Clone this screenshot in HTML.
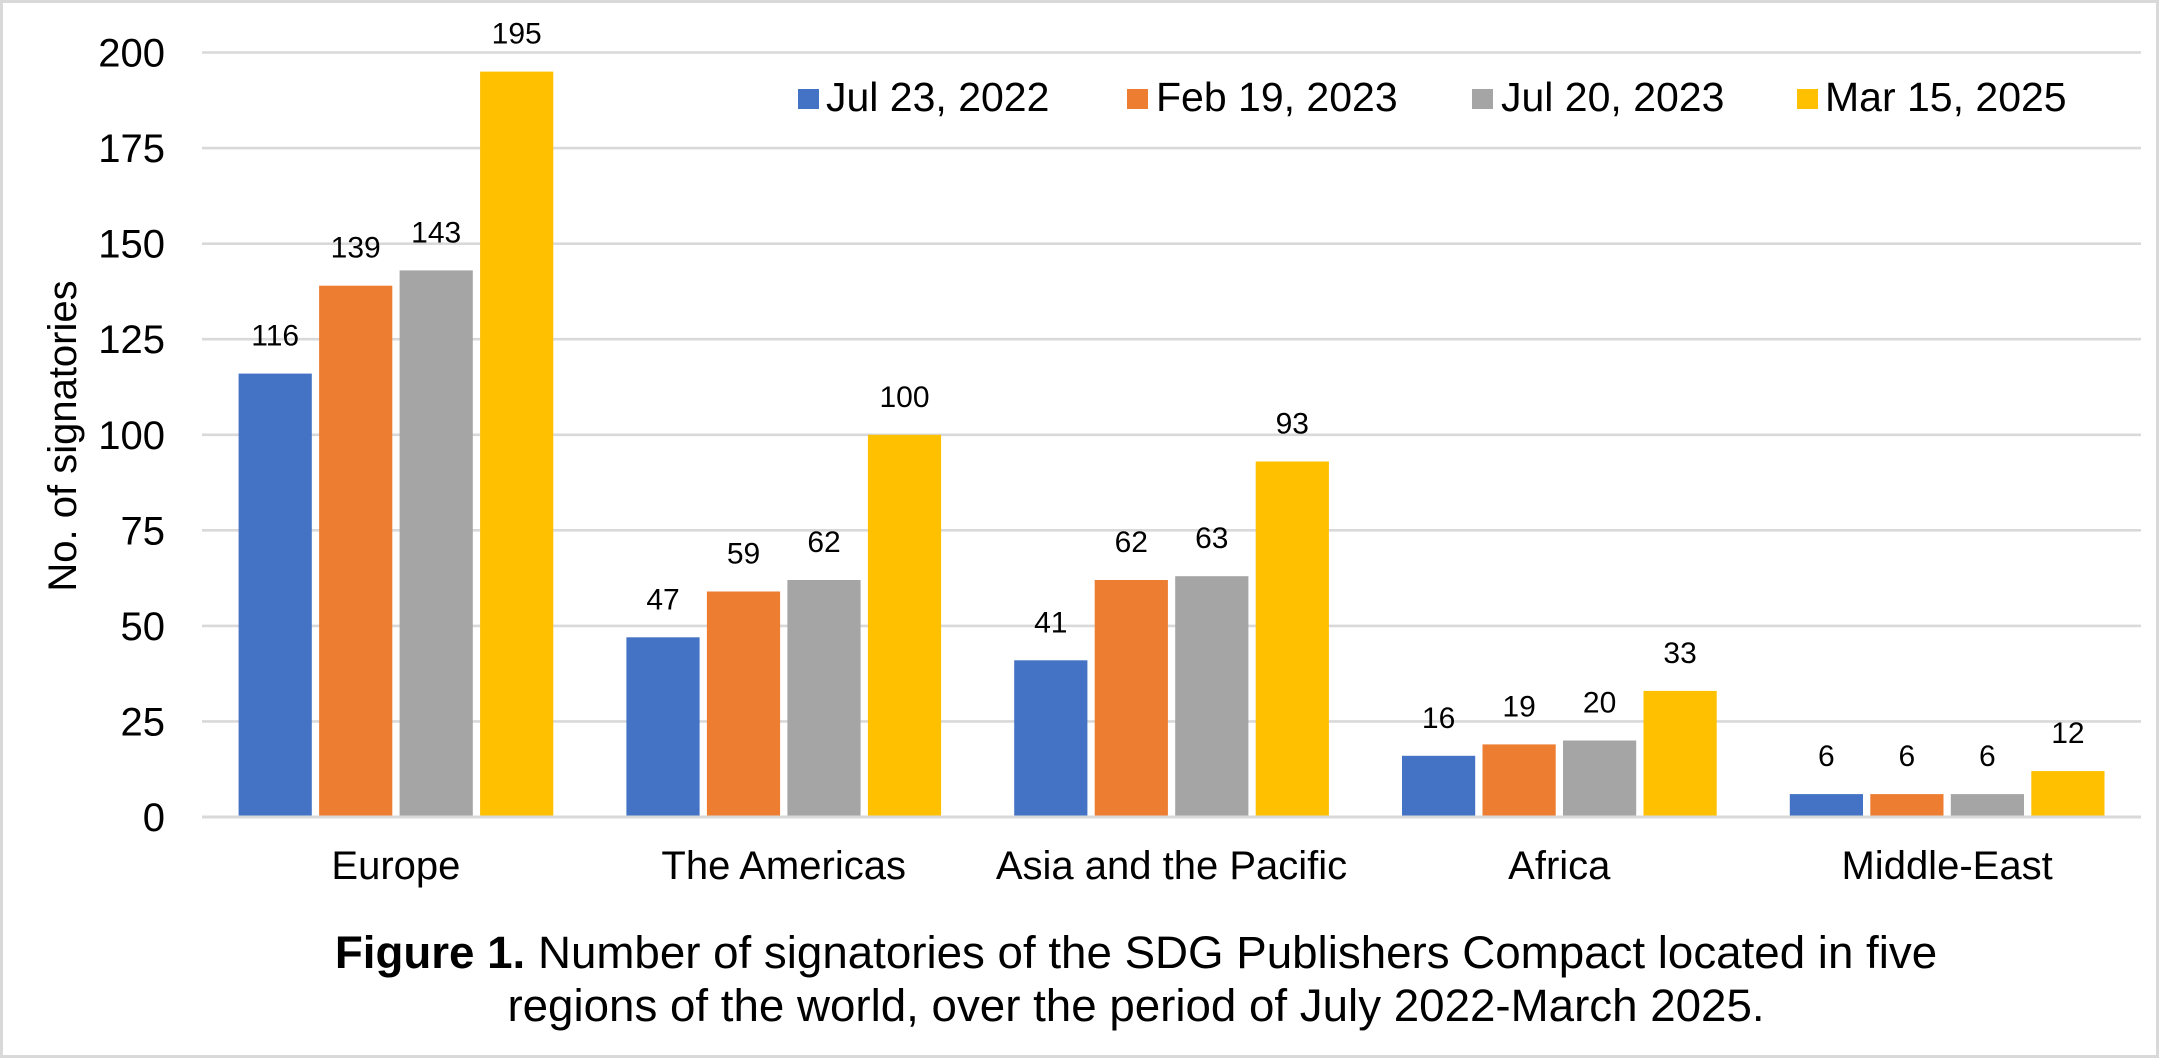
<!DOCTYPE html>
<html>
<head>
<meta charset="utf-8">
<style>
html,body{margin:0;padding:0;background:#fff;}
svg{display:block;}
text{font-family:"Liberation Sans",Arial,sans-serif;fill:#000;}
</style>
</head>
<body>
<svg width="2159" height="1058" viewBox="0 0 2159 1058" xmlns="http://www.w3.org/2000/svg">
<rect x="0" y="0" width="2159" height="1058" fill="#fff"/>
<rect x="1.5" y="1.5" width="2156" height="1055" fill="none" stroke="#d9d9d9" stroke-width="3"/>

<!-- gridlines -->
<g stroke="#d9d9d9" stroke-width="2.6">
<line x1="202" y1="52.5" x2="2141" y2="52.5"/>
<line x1="202" y1="148.1" x2="2141" y2="148.1"/>
<line x1="202" y1="243.7" x2="2141" y2="243.7"/>
<line x1="202" y1="339.2" x2="2141" y2="339.2"/>
<line x1="202" y1="434.8" x2="2141" y2="434.8"/>
<line x1="202" y1="530.3" x2="2141" y2="530.3"/>
<line x1="202" y1="625.9" x2="2141" y2="625.9"/>
<line x1="202" y1="721.4" x2="2141" y2="721.4"/>
</g>

<!-- y tick labels -->
<g font-size="40" text-anchor="end">
<text x="165" y="66.5">200</text>
<text x="165" y="162.1">175</text>
<text x="165" y="257.7">150</text>
<text x="165" y="353.2">125</text>
<text x="165" y="448.8">100</text>
<text x="165" y="544.3">75</text>
<text x="165" y="639.9">50</text>
<text x="165" y="735.4">25</text>
<text x="165" y="831">0</text>
</g>

<!-- axis title -->
<text font-size="40" text-anchor="middle" transform="translate(76,436) rotate(-90)">No. of signatories</text>

<!-- bars -->
<g>
<!-- Europe -->
<rect x="238.6" y="373.6" width="73.2" height="443.4" fill="#4472C4"/>
<rect x="319.1" y="285.7" width="73.2" height="531.3" fill="#ED7D31"/>
<rect x="399.6" y="270.4" width="73.2" height="546.6" fill="#A5A5A5"/>
<rect x="480.1" y="71.6" width="73.2" height="745.4" fill="#FFC000"/>
<!-- Americas -->
<rect x="626.4" y="637.3" width="73.2" height="179.7" fill="#4472C4"/>
<rect x="706.9" y="591.5" width="73.2" height="225.5" fill="#ED7D31"/>
<rect x="787.4" y="580.0" width="73.2" height="237.0" fill="#A5A5A5"/>
<rect x="867.9" y="434.8" width="73.2" height="382.2" fill="#FFC000"/>
<!-- Asia -->
<rect x="1014.2" y="660.3" width="73.2" height="156.7" fill="#4472C4"/>
<rect x="1094.7" y="580.0" width="73.2" height="237.0" fill="#ED7D31"/>
<rect x="1175.2" y="576.2" width="73.2" height="240.8" fill="#A5A5A5"/>
<rect x="1255.7" y="461.5" width="73.2" height="355.5" fill="#FFC000"/>
<!-- Africa -->
<rect x="1402.0" y="755.8" width="73.2" height="61.2" fill="#4472C4"/>
<rect x="1482.5" y="744.4" width="73.2" height="72.6" fill="#ED7D31"/>
<rect x="1563.0" y="740.5" width="73.2" height="76.5" fill="#A5A5A5"/>
<rect x="1643.5" y="690.9" width="73.2" height="126.1" fill="#FFC000"/>
<!-- Middle-East -->
<rect x="1789.8" y="794.1" width="73.2" height="22.9" fill="#4472C4"/>
<rect x="1870.3" y="794.1" width="73.2" height="22.9" fill="#ED7D31"/>
<rect x="1950.8" y="794.1" width="73.2" height="22.9" fill="#A5A5A5"/>
<rect x="2031.3" y="771.1" width="73.2" height="45.9" fill="#FFC000"/>
</g>

<!-- x axis line -->
<line x1="202" y1="817" x2="2141" y2="817" stroke="#d9d9d9" stroke-width="3"/>

<!-- data labels -->
<g font-size="30" text-anchor="middle">
<text x="275.2" y="345.6">116</text>
<text x="355.7" y="257.7">139</text>
<text x="436.2" y="242.4">143</text>
<text x="516.7" y="43.6">195</text>

<text x="663.0" y="609.3">47</text>
<text x="743.5" y="563.5">59</text>
<text x="824.0" y="552.0">62</text>
<text x="904.5" y="406.8">100</text>

<text x="1050.8" y="632.3">41</text>
<text x="1131.3" y="552.0">62</text>
<text x="1211.8" y="548.2">63</text>
<text x="1292.3" y="433.5">93</text>

<text x="1438.6" y="727.8">16</text>
<text x="1519.1" y="716.4">19</text>
<text x="1599.6" y="712.5">20</text>
<text x="1680.1" y="662.9">33</text>

<text x="1826.4" y="766.1">6</text>
<text x="1906.9" y="766.1">6</text>
<text x="1987.4" y="766.1">6</text>
<text x="2067.9" y="743.1">12</text>
</g>

<!-- category labels -->
<g font-size="40" text-anchor="middle">
<text x="395.9" y="879">Europe</text>
<text x="783.7" y="879">The Americas</text>
<text x="1171.5" y="879">Asia and the Pacific</text>
<text x="1559.3" y="879">Africa</text>
<text x="1947.1" y="879">Middle-East</text>
</g>

<!-- legend -->
<g>
<rect x="798" y="89" width="21" height="20" fill="#4472C4"/>
<text x="826" y="111" font-size="41">Jul 23, 2022</text>
<rect x="1127" y="89" width="21" height="20" fill="#ED7D31"/>
<text x="1156" y="111" font-size="41">Feb 19, 2023</text>
<rect x="1472" y="89" width="21" height="20" fill="#A5A5A5"/>
<text x="1501" y="111" font-size="41">Jul 20, 2023</text>
<rect x="1797" y="89" width="21" height="20" fill="#FFC000"/>
<text x="1825" y="111" font-size="41">Mar 15, 2025</text>
</g>

<!-- caption -->
<text x="1136" y="968" font-size="45.7" text-anchor="middle"><tspan font-weight="bold">Figure 1.</tspan> Number of signatories of the SDG Publishers Compact located in five</text>
<text x="1136" y="1021" font-size="45.7" text-anchor="middle">regions of the world, over the period of July 2022-March 2025.</text>
</svg>
</body>
</html>
